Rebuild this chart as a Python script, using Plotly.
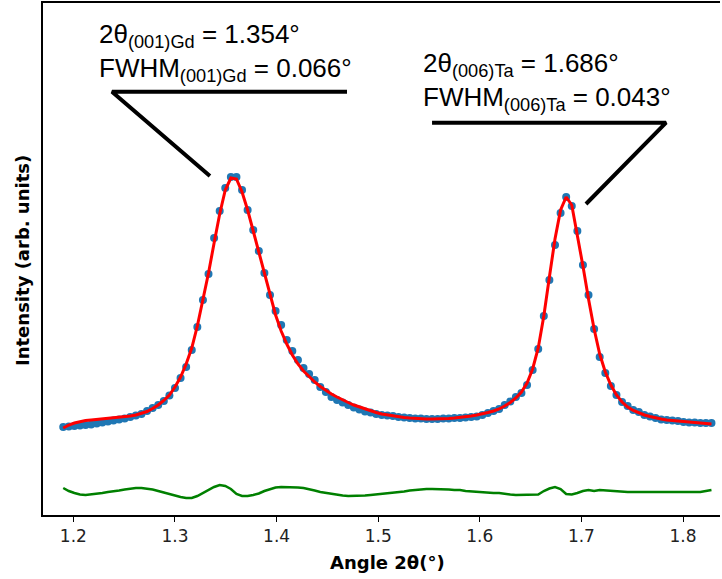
import numpy as np
import plotly.graph_objects as go

# scan grid (2theta, degrees)
two_theta = np.round(1.19 + 0.0055 * np.arange(117), 5)

# measured intensity (arb. units)
measured = [
    88, 88.5, 89, 89.5, 90, 90.5, 91.5, 92.5, 93.5, 94.5,
    95.5, 96.5, 98, 99.5, 101, 104, 107, 110, 114, 119.5,
    127, 137, 148, 165, 188, 215, 241, 277, 304, 327,
    338, 338, 325, 305, 285, 264, 242, 220, 204, 190,
    175, 164, 155, 147, 141, 135, 128, 123, 118, 115,
    112.5, 110, 107.5, 105.5, 103.5, 102.5, 101, 100, 99.5, 99,
    98, 97.5, 97, 96.5, 96.5, 96, 96, 96, 96.5, 96.5,
    97, 97, 97.5, 98, 98.5, 100, 102, 104, 106, 110,
    113.5, 118, 122, 130, 145, 166, 199, 235, 270, 302,
    318, 309, 284, 250, 220, 186, 158, 142, 129, 120,
    113, 109, 105, 103, 100, 98.5, 97, 95.5, 95, 94.5,
    94, 93, 92.5, 92.5, 92, 92, 92,
]

# fitted profile
fitted = [
    87, 90, 92, 93.5, 94.5, 95, 95.5, 96, 96.5, 97,
    97.5, 98, 99, 100, 101.5, 103.5, 106.5, 110, 114.5, 120,
    128, 138, 151, 167, 189, 214, 242, 272, 301, 325,
    337, 336, 323, 305, 284, 262, 240, 219, 200, 184,
    171, 160, 151, 144, 138, 133, 128.5, 124.5, 121, 118,
    115, 112.5, 110, 108, 106, 104, 102.5, 101, 100, 99,
    98, 97.5, 97, 96.5, 96, 96, 96, 96, 96, 96.5,
    97, 97.5, 98, 99, 100, 101, 102.5, 104, 106, 109,
    112.5, 117, 123, 132, 146, 167, 199, 238, 276, 305,
    318, 310, 281, 249, 216, 186, 161, 143, 130, 120,
    113, 108, 104.5, 102, 100, 98.5, 97, 96, 95, 94.5,
    94, 93.5, 93, 92.5, 92, 91.5, 91,
]

# residual (offset below the data)
residual = [
    27, 24, 22, 20.5, 20, 20.5, 21.5, 22, 23, 23.5,
    24.5, 25.5, 26.5, 27, 27, 26.5, 25.5, 24, 22.5, 21,
    19, 18, 17, 17, 19, 22, 25, 28, 30, 29,
    26, 21, 19, 19, 20, 21.5, 24, 26, 27.5, 28,
    28, 28, 27.5, 27, 26, 24.5, 23, 22, 21, 20,
    19.5, 19, 19, 19, 19.5, 20, 20.5, 21, 21.5, 22.5,
    23, 23.5, 24.5, 25, 26, 26, 26, 26, 26, 25.5,
    25, 25, 24, 23.5, 23, 22.5, 22.5, 22, 22, 21,
    20.5, 20, 20, 20, 20, 20.5, 24, 26.5, 28, 26,
    21, 20.5, 22, 24, 25, 24, 25, 24.5, 24, 23.5,
    23, 23, 23, 23, 23, 23, 23, 23, 23, 23,
    23, 23, 23, 23, 23, 24, 25,
]

x_ticks = [1.2, 1.3, 1.4, 1.5, 1.6, 1.7, 1.8]
x_tick_labels = ["1.2", "1.3", "1.4", "1.5", "1.6", "1.7", "1.8"]

label_gd = "2θ<sub>(001)Gd</sub> = 1.354°<br>FWHM<sub>(001)Gd</sub> = 0.066°"
label_ta = "2θ<sub>(006)Ta</sub> = 1.686°<br>FWHM<sub>(006)Ta</sub> = 0.043°"

fig = go.Figure()
fig.add_trace(go.Scatter(
    x=two_theta, y=measured, mode="markers",
    marker=dict(color="#1f77b4", size=8, line=dict(width=0)),
    showlegend=False,
))
fig.add_trace(go.Scatter(
    x=two_theta, y=fitted, mode="lines",
    line=dict(color="#ff0000", width=3),
    showlegend=False,
))
fig.add_trace(go.Scatter(
    x=two_theta, y=residual, mode="lines",
    line=dict(color="#008000", width=2.5),
    showlegend=False,
))

# leader lines for the labels
leader_gd_x = [1.4693, 1.2380, 1.3344]
leader_gd_y = [423.3, 423.3, 339]
leader_ta_x = [1.5530, 1.7833, 1.7045]
leader_ta_y = [392.3, 392.3, 311]
for lx, ly in [(leader_gd_x, leader_gd_y), (leader_ta_x, leader_ta_y)]:
    fig.add_trace(go.Scatter(
        x=lx, y=ly, mode="lines",
        line=dict(color="black", width=4),
        showlegend=False, hoverinfo="skip",
    ))

ann_font = dict(family="Liberation Sans, Arial, sans-serif", size=26, color="black")
fig.add_annotation(x=1.2272, y=498, xref="x", yref="y", text=label_gd,
                   showarrow=False, xanchor="left", yanchor="top",
                   align="left", font=ann_font, xshift=-4)
fig.add_annotation(x=1.5460, y=469, xref="x", yref="y", text=label_ta,
                   showarrow=False, xanchor="left", yanchor="top",
                   align="left", font=ann_font, xshift=-4)

title_font = dict(family="DejaVu Sans", size=18, color="black")
fig.add_annotation(x=(387 - 43) / 677, y=(515 - 562) / 512, xref="paper", yref="paper",
                   text="<b>Angle 2θ(°)</b>", showarrow=False,
                   xanchor="center", yanchor="middle", font=title_font)
fig.add_annotation(x=(22 - 43) / 677, y=(515 - 261) / 512, xref="paper", yref="paper",
                   text="<b>Intensity (arb. units)</b>", showarrow=False, textangle=-90,
                   xanchor="center", yanchor="middle", font=title_font)

fig.update_layout(
    width=722, height=579,
    margin=dict(l=43, r=2, t=3, b=64),
    paper_bgcolor="white", plot_bgcolor="white",
    font=dict(family="DejaVu Sans", color="black"),
    xaxis=dict(
        range=[1.1701, 1.8364], automargin=False,
        tickmode="array", tickvals=x_ticks, ticktext=x_tick_labels,
        ticks="outside", ticklen=5, tickwidth=1.2, tickcolor="black",
        tickfont=dict(family="DejaVu Sans", size=17, color="#222"),
        showline=True, linecolor="black", linewidth=1.5, mirror=True,
        showgrid=False, zeroline=False,
    ),
    yaxis=dict(
        range=[0, 512], automargin=False,
        showticklabels=False, ticks="",
        showline=True, linecolor="black", linewidth=1.5, mirror=False,
        showgrid=False, zeroline=False,
    ),
)

fig.write_html("out.html", config={"displayModeBar": False},
               post_script="document.body.style.margin='0';")
